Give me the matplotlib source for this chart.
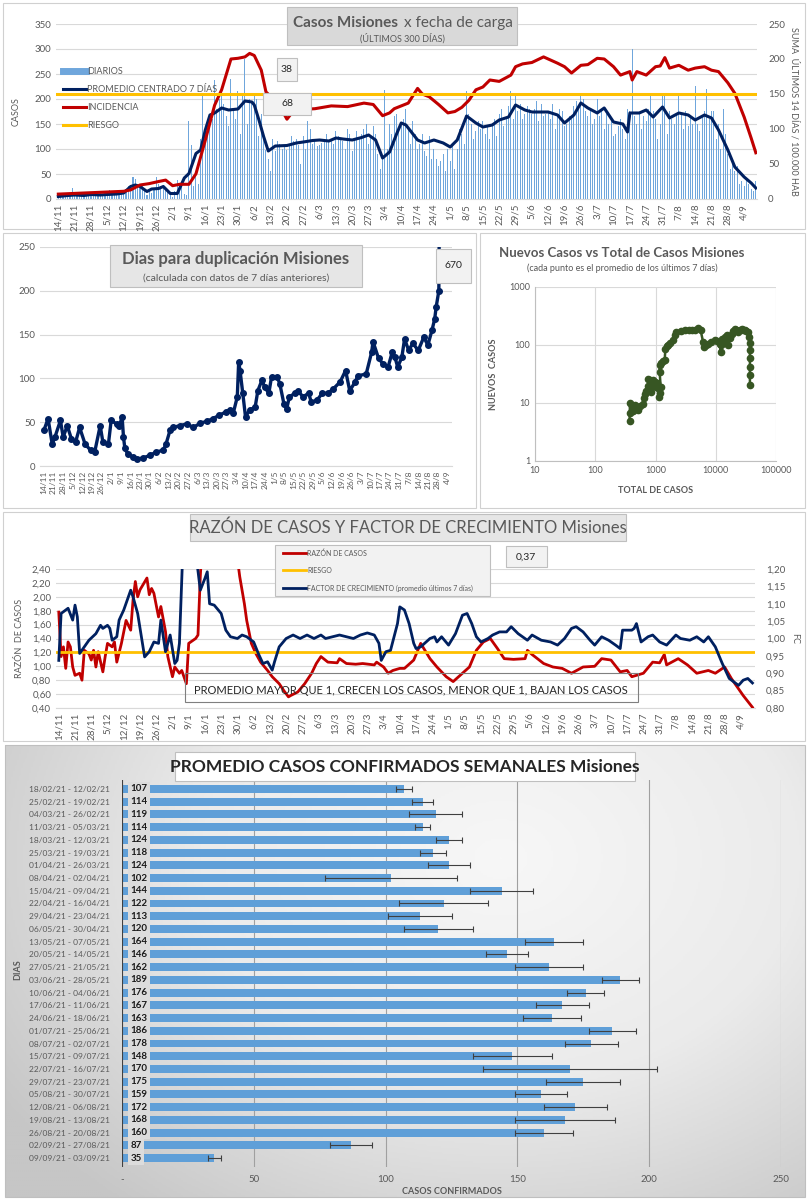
import numpy as np
import pandas as pd
import matplotlib
matplotlib.use('Agg')
import matplotlib.pyplot as plt
from matplotlib.patches import Rectangle
from matplotlib.lines import Line2D
from matplotlib.colors import LinearSegmentedColormap

plt.rcParams['font.family'] = ['Lato', 'DejaVu Sans']

W, H = 808, 1200
START = pd.Timestamp('2020-11-14')   # day 0 of every time axis

# ---------------- data: panel 1 (casos diarios) ----------------
diarios = [
    5, 8, 6, 10, 4, 9, 22,  8, 5, 10, 7, 12, 6, 9,  10, 8, 12, 6, 14, 9, 11,
    12, 18, 10, 9, 14, 11, 16,  14, 20, 25, 28, 44, 40, 30,  22, 30, 18, 8, 15, 12, 20,
    43, 30, 25, 28, 20, 18, 8,  4, 15, 38, 30, 25, 10, 8,  155, 108, 25, 45, 30, 120, 212,
    130, 150, 170, 160, 237, 180, 200,  210, 190, 165, 145, 240, 175, 160,
    215, 130, 205, 280, 150, 200, 195,  205, 200, 125, 170, 130, 98, 80,
    55, 120, 95, 115, 110, 100, 105,  98, 110, 125, 115, 120, 108, 70,
    125, 100, 155, 140, 110, 120, 105,  108, 112, 120, 130, 115, 118, 110,
    135, 125, 120, 115, 100, 140, 130,  95, 120, 135, 120, 130, 140, 150,
    110, 125, 145, 130, 90, 60, 85,  218, 100, 150, 130, 165, 170, 140,
    145, 160, 180, 140, 110, 155, 130,  100, 110, 130, 95, 85, 125, 80,
    100, 80, 65, 75, 90, 55, 100,  75, 105, 60, 100, 140, 130, 110,
    215, 170, 150, 120, 135, 155, 140,  155, 130, 145, 120, 150, 160, 125,
    170, 180, 145, 160, 185, 215, 160,  205, 175, 190, 160, 170, 185, 180,
    170, 180, 195, 155, 190, 165, 170,  175, 160, 190, 140, 165, 180, 175,
    145, 150, 165, 160, 185, 195, 180,  210, 200, 175, 165, 180, 150, 160,
    200, 165, 180, 140, 170, 150, 160,  125, 130, 145, 160, 140, 120, 180,
    175, 300, 165, 150, 170, 140, 165,  155, 180, 210, 175, 160, 120, 150,
    210, 205, 130, 175, 160, 150, 170,  210, 170, 140, 175, 145, 165, 150,
    225, 150, 135, 165, 175, 220, 160,  175, 175, 120, 150, 100, 180, 130,
    90, 60, 70, 55, 65, 30, 35,  25, 40, 30, 20, 15, 35]

prom_fecha = ['14/11', '18/11', '21/11', '25/11', '28/11', '2/12', '5/12', '9/12', '12/12', '15/12',
              '17/12', '19/12', '22/12', '24/12', '27/12', '29/12', '1/1', '4/1', '7/1', '9/1',
              '12/1', '14/1', '16/1', '18/1', '20/1', '23/1', '26/1', '30/1', '2/2', '5/2',
              '6/2', '8/2', '10/2', '12/2', '15/2', '20/2', '24/2', '27/2', '3/3', '6/3',
              '10/3', '13/3', '16/3', '20/3', '24/3', '27/3', '30/3', '2/4', '5/4', '8/4',
              '10/4', '12/4', '17/4', '20/4', '24/4', '28/4', '1/5', '4/5', '8/5', '12/5',
              '15/5', '19/5', '22/5', '26/5', '29/5', '2/6', '5/6', '12/6', '16/6', '19/6',
              '23/6', '26/6', '29/6', '3/7', '6/7', '10/7', '14/7', '16/7', '17/7', '21/7',
              '24/7', '27/7', '31/7', '3/8', '7/8', '11/8', '14/8', '18/8', '21/8', '24/8',
              '28/8', '31/8', '4/9', '7/9', '9/9']
prom_val = [5, 7, 8, 7, 9, 8, 9, 10, 12, 25, 28, 25, 15, 20, 21, 25, 11, 11, 42, 51,
            91, 98, 138, 168, 172, 182, 178, 180, 196, 194, 188, 158, 125, 96, 106, 107, 112, 114, 117, 118,
            116, 122, 120, 118, 123, 128, 118, 82, 94, 130, 152, 148, 118, 112, 118, 112, 104, 118, 166, 152,
            144, 148, 158, 164, 188, 178, 174, 174, 168, 152, 168, 192, 182, 172, 182, 154, 150, 134, 172, 172,
            178, 164, 184, 162, 172, 168, 158, 168, 162, 138, 98, 64, 44, 32, 22]

inc_fecha = ['14/11', '21/11', '28/11', '5/12', '12/12', '15/12', '19/12', '23/12', '27/12', '30/12',
             '2/1', '5/1', '9/1', '12/1', '16/1', '20/1', '23/1', '27/1', '30/1', '2/2',
             '4/2', '6/2', '9/2', '11/2', '15/2', '17/2', '20/2', '23/2', '27/2', '4/3',
             '11/3', '18/3', '25/3', '29/3', '1/4', '2/4', '5/4', '7/4', '13/4', '17/4',
             '19/4', '22/4', '26/4', '30/4', '3/5', '6/5', '9/5', '12/5', '15/5', '18/5',
             '22/5', '27/5', '29/5', '1/6', '5/6', '10/6', '12/6', '16/6', '19/6', '22/6',
             '26/6', '29/6', '3/7', '6/7', '10/7', '13/7', '17/7', '18/7', '20/7', '24/7',
             '28/7', '30/7', '1/8', '3/8', '7/8', '11/8', '14/8', '18/8', '21/8', '24/8',
             '28/8', '31/8', '4/9', '7/9', '9/9']
inc_val = [7, 8, 9, 10, 11, 13, 20, 22, 25, 27, 19, 21, 21, 36, 84, 134, 156, 200, 201, 203,
           208, 205, 184, 153, 140, 132, 114, 127, 128, 129, 133, 132, 137, 135, 123, 119, 123, 129, 137, 158,
           150, 146, 135, 123, 125, 131, 141, 156, 160, 170, 168, 177, 189, 193, 195, 203, 200, 194, 189, 180,
           191, 192, 201, 200, 189, 177, 182, 170, 182, 177, 189, 190, 202, 187, 191, 184, 187, 189, 184, 182,
           166, 151, 117, 87, 66]
riesgo_inc = 150

# ---------------- data: panel 2 (dias para duplicacion) ----------------
dup_dia = [0, 3, 6, 8, 12, 14, 17, 20, 23, 26, 30, 34, 37, 41, 43, 47, 49, 53, 55, 57,
           58, 59, 61, 65, 68, 72, 77, 82, 87, 89, 92, 94, 99, 104, 109, 114, 119, 123, 128, 133,
           136, 138, 141, 142, 143, 145, 147, 150, 154, 156, 159, 161, 164, 166, 170, 172, 175, 177, 179, 183,
           185, 189, 193, 195, 199, 203, 207, 211, 216, 220, 223, 227, 229, 235, 239, 240, 244, 247, 251, 254,
           256, 258, 261, 263, 266, 269, 273, 277, 280, 283, 285, 286, 288, 290]
dup_val = [41, 54, 25, 33, 52, 33, 46, 31, 27, 44, 25, 18, 16, 46, 27, 25, 52, 48, 46, 56,
           33, 20, 14, 10, 8, 9, 12, 16, 18, 25, 41, 44, 46, 48, 44, 49, 51, 54, 58, 62,
           64, 60, 79, 119, 109, 83, 56, 64, 67, 86, 98, 90, 83, 102, 102, 94, 71, 65, 79, 83,
           86, 79, 83, 73, 75, 83, 83, 88, 96, 109, 86, 96, 103, 105, 130, 142, 123, 117, 113, 130,
           124, 113, 124, 145, 132, 140, 132, 147, 138, 155, 168, 181, 200, 670]

# ---------------- data: panel 3 (nuevos vs total, log-log) ----------------
total_casos = [372, 372, 380, 400, 420, 450, 480, 511, 560, 617, 640, 660, 700, 750, 760, 800, 850, 880,
               907, 970, 1000, 1050, 1100, 1140, 1170, 1220, 1170, 1170, 1250, 1350, 1420, 1460, 1530,
               1610, 1750, 1950, 2100, 2220, 2600, 3060, 3600, 4000, 4490, 5100, 5600, 6170, 6400,
               6900, 7480, 8500, 9660, 10500, 11700, 12000, 12400, 12900, 13500, 14200, 15100, 16100,
               17000, 18300, 19500, 20800, 22000, 23600, 25000, 26800, 28500, 30500, 32000, 33800,
               35500, 36900, 36900, 36900, 36900, 36900, 36900]
nuevos_casos = [4.9, 6.8, 10, 9, 7.2, 9.3, 8, 7.5, 9, 9.8, 12, 14.5, 16, 20, 26, 25, 15.6, 20,
                24.7, 23, 19, 22, 17.8, 12.9, 15, 19, 34, 45, 48, 52, 55, 87, 95,
                99, 108, 121, 150, 168, 175, 180, 178, 180, 184, 200, 180, 113, 93,
                100, 106, 112, 121, 115, 106, 76, 100, 129, 110, 135, 147, 100,
                130, 157, 175, 192, 180, 168, 185, 192, 178, 180, 175, 168,
                138, 110, 81, 60, 42, 30, 20.5]

# ---------------- data: panel 4 (razon de casos / factor de crecimiento) ----------------
razon_dia = [0, 1, 2, 3, 4, 5, 6, 7, 9, 10, 11, 13, 14, 15, 16, 17, 19, 20, 21, 23,
             24, 25, 27, 29, 31, 32, 33, 34, 35, 38, 39, 40, 41, 43, 44, 46, 47, 49, 50, 52,
             53, 55, 56, 59, 60, 61, 63, 67, 72, 76, 78, 80, 81, 83, 85, 87, 90, 92, 95, 97,
             99, 100, 103, 106, 109, 111, 113, 116, 120, 121, 124, 128, 131, 136, 137, 140, 142, 144, 147, 149,
             153, 156, 160, 163, 167, 170, 173, 177, 180, 183, 186, 189, 192, 196, 201, 202, 204, 209, 213, 217,
             221, 226, 231, 234, 238, 242, 245, 247, 252, 256, 259, 261, 262, 267, 271, 275, 280, 283, 287, 290,
             295, 299]
razon_val = [1.78, 1.14, 1.28, 0.97, 1.35, 1.28, 0.99, 0.87, 0.90, 0.80, 1.23, 1.18, 1.09, 1.23, 0.99, 1.21, 0.92, 1.14, 1.33, 1.28,
             1.35, 1.06, 1.33, 1.66, 1.52, 1.95, 2.22, 2.00, 2.10, 2.27, 2.03, 2.12, 2.05, 1.71, 1.86, 1.50, 1.14, 0.85, 0.99, 0.90,
             0.94, 0.75, 1.33, 1.40, 1.45, 2.29, 3.50, 4.50, 3.80, 2.80, 2.29, 1.90, 1.66, 1.33, 1.18, 1.06, 0.94, 0.85, 0.75, 0.65,
             0.56, 0.58, 0.63, 0.75, 0.90, 1.04, 1.14, 1.06, 1.05, 1.11, 1.04, 1.03, 1.04, 1.02, 1.06, 0.99, 0.90, 0.94, 0.97, 0.97,
             1.09, 1.33, 1.11, 0.99, 0.85, 0.78, 0.87, 0.99, 1.23, 1.35, 1.40, 1.26, 1.11, 1.10, 1.11, 1.23, 1.17, 1.04, 0.99, 0.97,
             0.90, 0.99, 1.00, 1.11, 1.09, 0.92, 0.94, 0.85, 0.90, 1.06, 1.05, 1.17, 1.02, 1.11, 1.02, 0.90, 0.94, 0.90, 0.99, 0.82,
             0.58, 0.41]
riesgo_razon = 1.2

fc_dia = [0, 1, 3, 4, 6, 7, 8, 9, 11, 13, 16, 18, 19, 21, 22, 23, 25, 26, 28, 31,
          32, 34, 37, 39, 41, 43, 44, 46, 48, 50, 51, 52, 54, 57, 59, 61, 63, 64, 65, 67,
          70, 72, 74, 77, 79, 81, 84, 86, 88, 90, 92, 93, 95, 98, 101, 104, 107, 110, 113, 115,
          118, 121, 124, 127, 130, 133, 136, 138, 139, 141, 143, 146, 147, 149, 151, 153, 154, 156, 160, 162,
          163, 165, 168, 171, 174, 176, 178, 180, 182, 185, 187, 190, 193, 195, 198, 202, 204, 208, 212, 215,
          218, 221, 223, 226, 229, 231, 234, 237, 240, 242, 243, 247, 248, 249, 251, 254, 256, 259, 262, 266,
          268, 272, 275, 278, 280, 283, 286, 289, 293, 295, 297, 299]
fc_val = [0.937, 1.072, 1.082, 1.087, 1.053, 1.096, 1.062, 0.957, 0.976, 0.995, 1.014, 1.038, 1.029, 1.038, 1.029, 0.995, 1.005, 1.053, 1.082, 1.139,
          1.120, 1.072, 0.947, 0.962, 0.990, 0.986, 1.053, 0.962, 1.010, 0.928, 0.937, 0.986, 1.350, 1.450, 1.250, 1.139, 1.173, 1.192, 1.100, 1.096,
          1.072, 1.024, 1.005, 1.000, 1.010, 1.005, 0.990, 0.957, 0.928, 0.933, 0.909, 0.933, 0.976, 1.000, 1.010, 1.000, 1.010, 1.000, 1.010, 1.000,
          1.005, 1.010, 1.005, 1.000, 1.010, 1.016, 1.010, 0.986, 0.937, 0.962, 0.966, 1.043, 1.091, 1.082, 1.043, 0.986, 0.971, 0.976, 1.000, 1.005,
          0.990, 1.005, 0.981, 1.014, 1.067, 1.072, 1.043, 1.005, 0.990, 1.000, 1.010, 1.019, 1.019, 1.034, 1.014, 0.995, 1.010, 0.995, 0.990, 0.981,
          1.000, 1.029, 1.034, 1.019, 0.995, 0.981, 1.005, 0.995, 0.981, 0.971, 1.024, 1.024, 1.029, 1.043, 0.990, 1.005, 1.010, 0.990, 0.981, 1.010,
          1.000, 0.995, 1.005, 0.990, 1.005, 0.976, 0.928, 0.885, 0.865, 0.880, 0.885, 0.872]

# ---------------- data: panel 5 (promedio semanal) ----------------
semanas = ['18/02/21 - 12/02/21', '25/02/21 - 19/02/21', '04/03/21 - 26/02/21', '11/03/21 - 05/03/21',
           '18/03/21 - 12/03/21', '25/03/21 - 19/03/21', '01/04/21 - 26/03/21', '08/04/21 - 02/04/21',
           '15/04/21 - 09/04/21', '22/04/21 - 16/04/21', '29/04/21 - 23/04/21', '06/05/21 - 30/04/21',
           '13/05/21 - 07/05/21', '20/05/21 - 14/05/21', '27/05/21 - 21/05/21', '03/06/21 - 28/05/21',
           '10/06/21 - 04/06/21', '17/06/21 - 11/06/21', '24/06/21 - 18/06/21', '01/07/21 - 25/06/21',
           '08/07/21 - 02/07/21', '15/07/21 - 09/07/21', '22/07/21 - 16/07/21', '29/07/21 - 23/07/21',
           '05/08/21 - 30/07/21', '12/08/21 - 06/08/21', '19/08/21 - 13/08/21', '26/08/21 - 20/08/21',
           '02/09/21 - 27/08/21', '09/09/21 - 03/09/21']
promedio_sem = [107, 114, 119, 114, 124, 118, 124, 102, 144, 122, 113, 120, 164, 146, 162,
                189, 176, 167, 163, 186, 178, 148, 170, 175, 159, 172, 168, 160, 87, 35]
err_sem = [3, 4, 10, 3, 5, 5, 8, 25, 12, 17, 12, 13, 11, 8, 13,
           7, 7, 10, 11, 9, 10, 15, 33, 14, 10, 12, 19, 11, 8, 2.5]

# ---------------- helpers ----------------
NAVY = '#002060'
RED = '#C00000'
GOLD = '#FFC000'
BAR = '#6FA6DC'
TXT = '#595959'
GRID = '#D9D9D9'


def dia(s):
    d, m = map(int, s.split('/'))
    return (pd.Timestamp(2020 if m >= 11 else 2021, m, d) - START).days


def rect(x0, y0, x1, y1):
    return [x0 / W, 1 - y1 / H, (x1 - x0) / W, (y1 - y0) / H]


def fbox(x0, y0, x1, y1, fc='none', ec='#BFBFBF', lw=0.8, z=3):
    fig.add_artist(Rectangle((x0 / W, 1 - y1 / H), (x1 - x0) / W, (y1 - y0) / H,
                             transform=fig.transFigure, fc=fc, ec=ec, lw=lw, zorder=z))


def ftext(x, y, s, **kw):
    kw.setdefault('color', TXT)
    kw.setdefault('zorder', 5)
    fig.text(x / W, 1 - y / H, s, **kw)


def fline(x0, x1, y, color, lw):
    fig.add_artist(Line2D([x0 / W, x1 / W], [1 - y / H, 1 - y / H], transform=fig.transFigure,
                          color=color, lw=lw, zorder=5))


def comma(v, nd=2):
    return f'{v:.{nd}f}'.replace('.', ',')


def style_time_axis(ax):
    td = np.arange(0, 295, 7)
    ax.set_xticks(td)
    ax.set_xticklabels([f'{d.day}/{d.month}' for d in START + pd.to_timedelta(td, 'D')],
                       rotation=90, fontsize=6.5, color=TXT)
    for s in ['top', 'left', 'right']:
        ax.spines[s].set_visible(False)
    ax.spines['bottom'].set_color(GRID)
    ax.tick_params(length=0, labelsize=7, labelcolor=TXT)
    ax.yaxis.grid(True, color=GRID, lw=0.8)
    ax.set_axisbelow(True)


fig = plt.figure(figsize=(W / 100, H / 100), dpi=100)

# panel frames
fbox(3, 3, 805, 229, ec='#D0D0D0', z=0)
fbox(3, 233, 476, 508, ec='#D0D0D0', z=0)
fbox(480, 233, 805, 508, ec='#D0D0D0', z=0)
fbox(3, 512, 805, 741, ec='#D0D0D0', z=0)

# ======================= panel 1 =======================
ax1 = fig.add_axes(rect(56, 24, 757, 199))
ax1.bar(np.arange(len(diarios)), diarios, width=0.45, color=BAR, zorder=2)
ax1.plot([dia(s) for s in prom_fecha], prom_val, color=NAVY, lw=2.2, zorder=4)
ax1.set_xlim(-1, 299.5)
ax1.set_ylim(0, 350)
ax1.set_yticks(np.arange(0, 351, 50))
style_time_axis(ax1)
ax1.set_ylabel('CASOS', fontsize=6.5, color=TXT, labelpad=10)

ax1r = ax1.twinx()
ax1r.plot([dia(s) for s in inc_fecha], inc_val, color=RED, lw=2.2, zorder=3)
ax1r.axhline(riesgo_inc, color=GOLD, lw=2.2, zorder=3)
ax1r.set_ylim(0, 250)
ax1r.set_yticks(np.arange(0, 251, 50))
for s in ax1r.spines.values():
    s.set_visible(False)
ax1r.tick_params(length=0, labelsize=7, labelcolor=TXT, pad=8)
ax1r.set_ylabel('SUMA  ÚLTIMOS 14 DÍAS / 100.000 HAB', fontsize=6.5, color=TXT,
                rotation=270, labelpad=10)

fbox(287, 7, 517, 45, fc='#D9D9D9', ec='#BFBFBF')
ftext(398, 23, 'Casos Misiones', fontsize=11, fontweight='bold', ha='right', va='center')
ftext(404, 23, 'x fecha de carga', fontsize=11, ha='left', va='center')
ftext(402, 38, '(ÚLTIMOS 300 DÍAS)', fontsize=6.5, ha='center', va='center')

for i, (lab, col, kind) in enumerate([('DIARIOS', BAR, 'bar'), ('PROMEDIO CENTRADO 7 DÍAS', NAVY, 'l'),
                                      ('INCIDENCIA', RED, 'l'), ('RIESGO', GOLD, 'l')]):
    y = 71 + i * 18
    fline(63, 86, y, col, 5 if kind == 'bar' else 2.2)
    ftext(87, y, lab, fontsize=6.5, va='center', ha='left')

fbox(277, 58, 297, 81, fc='#F2F2F2', ec='#BFBFBF')
ftext(287, 70, '38', fontsize=7.5, ha='center', va='center', color='#262626')
fbox(263, 93, 311, 115, fc='#F2F2F2', ec='#BFBFBF')
ftext(287, 104, '68', fontsize=7.5, ha='center', va='center', color='#262626')

# ======================= panel 2 =======================
ax2 = fig.add_axes(rect(40, 247, 452, 466))
ax2.plot(dup_dia, dup_val, '-o', color=NAVY, lw=2.4, ms=4, zorder=3)
ax2.set_xlim(-2.9, 297.6)
ax2.set_ylim(0, 250)
ax2.set_yticks(np.arange(0, 251, 50))
style_time_axis(ax2)
ax2.tick_params(axis='x', labelsize=6)

fbox(110, 245, 362, 287, fc='#E6E6E6', ec='#BFBFBF')
ftext(236, 259, 'Dias para duplicación Misiones', fontsize=12, fontweight='bold', ha='center', va='center')
ftext(236, 278, '(calculada con datos de 7 días anteriores)', fontsize=7.5, ha='center', va='center')
fbox(436, 249, 471, 283, fc='#F2F2F2', ec='#BFBFBF')
ftext(453, 266, '670', fontsize=7.5, ha='center', va='center', color='#262626')

# ======================= panel 3 =======================
ax3 = fig.add_axes(rect(535, 287, 776, 461))
ax3.plot(total_casos, nuevos_casos, '-o', color='#375623', lw=1.8, ms=4.5, zorder=3)
ax3.set_xscale('log')
ax3.set_yscale('log')
ax3.set_xlim(10, 100000)
ax3.set_ylim(1, 1000)
ax3.set_xticks([10, 100, 1000, 10000, 100000])
ax3.set_xticklabels(['10', '100', '1000', '10000', '100000'])
ax3.set_yticks([1, 10, 100, 1000])
ax3.set_yticklabels(['1', '10', '100', '1000'])
ax3.minorticks_off()
ax3.grid(True, color=GRID, lw=0.8)
ax3.set_axisbelow(True)
for s in ['top', 'right']:
    ax3.spines[s].set_visible(False)
for s in ['left', 'bottom']:
    ax3.spines[s].set_color('#BFBFBF')
ax3.tick_params(length=0, labelsize=6.5, labelcolor=TXT)
ax3.set_xlabel('TOTAL DE CASOS', fontsize=6.5, fontweight='bold', color=TXT, labelpad=8)
ax3.set_ylabel('NUEVOS  CASOS', fontsize=6.5, fontweight='bold', color=TXT, labelpad=8)
ftext(622, 253, 'Nuevos Casos vs Total de Casos Misiones', fontsize=9.5, fontweight='bold',
      ha='center', va='center')
ftext(622, 268, '(cada punto es el promedio de los últimos 7 días)', fontsize=6.5, ha='center', va='center')

# ======================= panel 4 =======================
ax4 = fig.add_axes(rect(56, 569, 755, 708))
ax4.plot(razon_dia, razon_val, color=RED, lw=2, zorder=3)
ax4.axhline(riesgo_razon, color=GOLD, lw=2, zorder=4)
ax4.set_xlim(-1.2, 300.1)
ax4.set_ylim(0.4, 2.4)
yt = np.arange(0.4, 2.41, 0.2)
ax4.set_yticks(yt)
ax4.set_yticklabels([comma(v) for v in yt])
style_time_axis(ax4)
ax4.set_ylabel('RAZÓN  DE CASOS', fontsize=6.5, color=TXT, labelpad=6)

ax4r = ax4.twinx()
ax4r.plot(fc_dia, fc_val, color=NAVY, lw=2, zorder=3)
ax4r.set_ylim(0.8, 1.2)
yt2 = np.arange(0.8, 1.201, 0.05)
ax4r.set_yticks(yt2)
ax4r.set_yticklabels([comma(v) for v in yt2])
for s in ax4r.spines.values():
    s.set_visible(False)
ax4r.tick_params(length=0, labelsize=7, labelcolor=TXT, pad=8)
ax4r.set_ylabel('FC', fontsize=6.5, color=TXT, rotation=270, labelpad=10)

fbox(190, 514, 626, 541, fc='#E6E6E6', ec='#BFBFBF')
ftext(408, 528, 'RAZÓN DE CASOS Y FACTOR DE CRECIMIENTO Misiones', fontsize=12, ha='center', va='center')
fbox(275, 545, 490, 596, fc='#F2F2F2', ec='#BFBFBF')
for i, (lab, col) in enumerate([('RAZÓN DE CASOS', RED), ('RIESGO', GOLD),
                                ('FACTOR DE CRECIMIENTO (promedio últimos 7 días)', NAVY)]):
    y = 553 + i * 17.5
    fline(283, 306, y, col, 2)
    ftext(307, y, lab, fontsize=5, va='center', ha='left')
fbox(506, 546, 547, 567, fc='#F2F2F2', ec='#BFBFBF')
ftext(526, 557, '0,37', fontsize=7.5, ha='center', va='center', color='#262626')
fbox(185, 673, 638, 702, fc='none', ec='#7F7F7F')
ftext(411, 691, 'PROMEDIO MAYOR QUE 1, CRECEN LOS CASOS, MENOR QUE 1, BAJAN LOS CASOS',
      fontsize=8, ha='center', va='center', color='#262626')

# ======================= panel 5 =======================
bg = fig.add_axes(rect(5, 745, 805, 1197))
bg.set_zorder(-1)
yy, xx = np.mgrid[0:1:240j, 0:1:400j]
grad = np.clip(np.hypot((xx - 0.62) / 0.75, (yy - 0.25) / 1.0), 0, 1)
bg.imshow(grad, cmap=LinearSegmentedColormap.from_list('g', ['#F7F7F7', '#EBEBEB', '#C6C6C6']),
          aspect='auto', extent=[0, 1, 0, 1])
bg.axis('off')
fbox(5, 745, 805, 1197, ec='#BFBFBF', z=0)

ax5 = fig.add_axes(rect(122, 780, 781, 1167))
ax5.patch.set_alpha(0)
rows = np.arange(len(semanas))
ax5.barh(rows, promedio_sem, height=0.62, color='#5F9FD8', zorder=2,
         xerr=err_sem, error_kw=dict(ecolor='#404040', lw=0.8, capsize=2, capthick=0.8, zorder=3))
for r, v in zip(rows, promedio_sem):
    ax5.text(3.2, r, str(v), fontsize=7, fontweight='bold', color='#1A1A1A', va='center', ha='left',
             bbox=dict(fc='#DCDCDC', ec='none', pad=1.6), zorder=4)
ax5.set_xlim(0, 250)
ax5.set_ylim(29.7, -0.7)
ax5.set_yticks(rows)
ax5.set_yticklabels(semanas, fontsize=6, color=TXT)
ax5.set_xticks(np.arange(0, 251, 50))
ax5.set_xticklabels(['-', '50', '100', '150', '200', '250'], fontsize=7, color=TXT)
ax5.tick_params(length=0)
ax5.tick_params(axis='y', pad=9)
ax5.tick_params(axis='x', pad=6)
for s in ax5.spines.values():
    s.set_visible(False)
ax5.xaxis.grid(True, color='#A0A0A0', lw=0.8)
ax5.set_axisbelow(True)
ax5.axvline(0, color='#404040', lw=1.5, zorder=3)
ax5.set_xlabel('CASOS CONFIRMADOS', fontsize=6.5, fontweight='bold', color=TXT, labelpad=2)
ftext(18, 970, 'DIAS', fontsize=6.5, fontweight='bold', rotation=90, ha='center', va='center')
fbox(175, 752, 635, 781, fc='white', ec='#BFBFBF')
ftext(405, 767, 'PROMEDIO CASOS CONFIRMADOS SEMANALES Misiones', fontsize=12.5, fontweight='bold',
      ha='center', va='center', color='#262626')

fig.savefig('out.png', dpi=100)
